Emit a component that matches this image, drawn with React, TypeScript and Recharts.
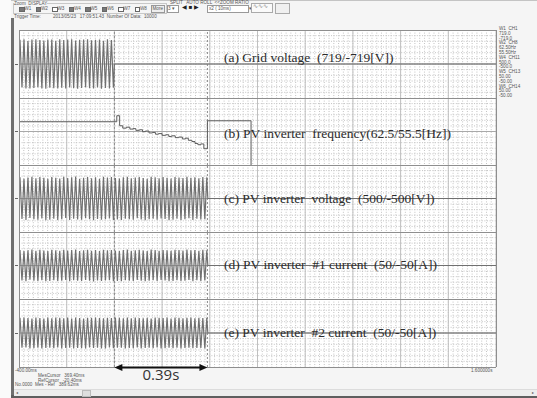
import { CartesianGrid, Line, LineChart, ReferenceLine, XAxis, YAxis } from "recharts";

// Time axis of the recorder screen, seconds
const T_MIN = -0.4;
const T_MAX = 1.6;
const HALF_CYCLE = 1 / 120; // 60 Hz
const REF_CURSOR = 0;
const MES_CURSOR = 0.39;
const MAJOR_TICKS = [-0.4, -0.2, 0, 0.2, 0.4, 0.6, 0.8, 1.0, 1.2, 1.4, 1.6];

// Half-cycle peaks of each waveform, left to right
const GRID_V = [
  512, -498, 521, -515, 488, -520, 517, -506, 524, -492, 509, -518, 496, -523, 515, -501,
  520, -511, 490, -517, 522, -503, 508, -519, 516, -495, 525, -510, 499, -521, 513, -507,
  519, -489, 524, -514, 502, -520, 511, -497, 518, -522, 493, -508, 521, -516, 505, -500,
];
const INV_V = [
  318, -305, 296, -321, 312, -290, 325, -309, 301, -318, 322, -297, 308, -324, 293, -315,
  320, -302, 311, -319, 298, -310, 324, -292, 306, -321, 315, -300, 327, -313, 295, -318,
  310, -296, 321, -311, 302, -325, 316, -304, 294, -317, 323, -308, 312, -299, 319, -322,
  305, -314, 297, -320, 318, -303, 326, -309, 300, -316, 313, -295, 321, -312, 307, -323,
  296, -310, 324, -301, 315, -318, 303, -297, 319, -306, 311, -324, 298, -315, 322, -300,
  313, -319, 304, -311, 326, -296, 309, -321, 317, -302, 300, -314, 320, -308, 316,
];
const INV1_I = [
  23.1, -22.4, 21.6, -23.5, 22.8, -21.2, 23.7, -22.6, 22.0, -23.2, 23.4, -21.8, 22.5, -23.6, 21.4, -22.9,
  23.3, -22.1, 22.7, -23.0, 21.9, -22.7, 23.6, -21.5, 22.3, -23.4, 23.0, -21.9, 23.8, -22.8, 21.6, -23.1,
  22.6, -21.7, 23.5, -22.7, 22.1, -23.7, 23.0, -22.2, 21.5, -23.1, 23.6, -22.5, 22.8, -21.8, 23.2, -23.5,
  22.2, -22.9, 21.7, -23.3, 23.1, -22.0, 23.8, -22.6, 21.9, -23.0, 22.8, -21.6, 23.4, -22.7, 22.4, -23.6,
  21.6, -22.6, 23.7, -21.9, 23.0, -23.1, 22.1, -21.7, 23.2, -22.3, 22.7, -23.6, 21.8, -23.0, 23.5, -21.9,
  22.9, -23.2, 22.2, -22.7, 23.8, -21.6, 22.6, -23.4, 23.1, -22.0, 21.9, -23.0, 23.3, -22.5, 22.7,
];
const INV2_I = [
  22.4, -21.8, 22.9, -21.1, 22.0, -22.7, 21.4, -22.3, 22.8, -21.5, 21.9, -22.9, 21.3, -22.1, 22.6, -21.7,
  21.6, -22.5, 22.9, -21.2, 22.3, -22.8, 21.5, -22.0, 22.7, -21.6, 21.2, -22.6, 22.9, -21.9, 22.1, -22.4,
  21.4, -22.8, 22.5, -21.3, 22.2, -22.0, 22.8, -21.5, 22.0, -22.6, 21.7, -22.9, 22.4, -21.4, 21.9, -22.3,
  22.9, -21.8, 22.3, -21.6, 21.5, -22.7, 22.6, -22.1, 21.8, -22.2, 22.7, -21.1, 22.1, -22.9, 21.6, -21.9,
  22.5, -21.7, 21.4, -22.5, 22.8, -21.3, 22.2, -22.6, 21.9, -22.4, 22.6, -21.8, 21.3, -22.2, 22.9, -21.6,
  22.3, -22.8, 21.8, -22.0, 22.4, -21.5, 22.7, -22.3, 21.6, -22.1, 22.5, -21.9, 22.0, -22.7, 22.2,
];

// Inverter frequency, held between samples
const FREQ_T = [
  -0.4, 0.01, 0.022, 0.035, 0.05, 0.065, 0.078, 0.09, 0.105, 0.118, 0.13, 0.145, 0.16, 0.172, 0.185,
  0.2, 0.215, 0.228, 0.24, 0.255, 0.27, 0.285, 0.298, 0.31, 0.325, 0.338, 0.35, 0.362, 0.375, 0.39,
  0.573, 1.6,
];
const FREQ_HZ = [
  60.02, 60.65, 59.6, 59.35, 59.45, 59.25, 59.3, 59.12, 59.18, 58.98, 59.05, 58.85, 58.9, 58.72, 58.78,
  58.6, 58.66, 58.48, 58.55, 58.36, 58.42, 58.22, 58.3, 58.08, 57.95, 57.75, 57.62, 57.7, 57.2, 60.12,
  50, 50,
];

const CHANNELS = [
  ["W1  CH1", "719.0", "-719.0"],
  ["W2  CH8", "62.50Hz", "55.50Hz"],
  ["W4  CH11", "500.0", "-500.0"],
  ["W5  CH13", "50.00", "-50.00"],
  ["W6  CH14", "50.00", "-50.00"],
];
const DISPLAY_BOXES = [
  ["W1", true], ["W2", true], ["W3", false], ["W4", true],
  ["W5", true], ["W6", true], ["W7", false], ["W8", false],
] as const;

function wave(peaks: number[]) {
  const pts = [{ t: T_MIN, v: 0 }];
  peaks.forEach((v, i) => pts.push({ t: T_MIN + (i + 0.5) * HALF_CYCLE, v }));
  pts.push({ t: T_MIN + peaks.length * HALF_CYCLE, v: 0 }, { t: T_MAX, v: 0 });
  return pts;
}

const FREQ = FREQ_T.map((t, i) => ({ t, v: FREQ_HZ[i] }));

const PLOT_L = 19;
const PLOT_W = 477;
const PANEL_TOPS = [30, 98, 165, 232, 299, 367];

const PANELS = [
  { id: "a", data: wave(GRID_V), domain: [-719, 719], step: false, dy: -6, label: "(a) Grid voltage  (719/-719[V])" },
  { id: "b", data: FREQ, domain: [55.5, 62.5], step: true, dy: 2, label: "(b) PV inverter  frequency(62.5/55.5[Hz])" },
  { id: "c", data: wave(INV_V), domain: [-500, 500], step: false, dy: 0, label: "(c) PV inverter  voltage  (500/-500[V])" },
  { id: "d", data: wave(INV1_I), domain: [-50, 50], step: false, dy: -1, label: "(d) PV inverter  #1 current  (50/-50[A])" },
  { id: "e", data: wave(INV2_I), domain: [-50, 50], step: false, dy: 0, label: "(e) PV inverter  #2 current  (50/-50[A])" },
];

const xs = (t: number) => PLOT_L + ((t - T_MIN) / (T_MAX - T_MIN)) * PLOT_W;

// dotted sub-grid: 10 columns per major division, 12 rows per panel
const MINOR_COLS: number[] = [];
for (let i = 1; i < 100; i++) MINOR_COLS.push((i * PLOT_W) / 100);

const tiny = { position: "absolute", fontSize: 4.6, lineHeight: "5px", color: "#555", whiteSpace: "pre" } as const;

function Panel({ p, top, height }: { p: (typeof PANELS)[number]; top: number; height: number }) {
  const [lo, hi] = p.domain;
  const rows: number[] = [];
  for (let i = 1; i < 12; i++) rows.push((i * height) / 12);
  return (
    <div style={{ position: "absolute", left: PLOT_L, top, width: PLOT_W, height }}>
      <LineChart width={PLOT_W} height={height} data={p.data} margin={{ top: 0, right: 0, bottom: 0, left: 0 }}>
        <XAxis type="number" dataKey="t" domain={[T_MIN, T_MAX]} allowDataOverflow hide />
        <YAxis type="number" domain={p.domain} allowDataOverflow hide />
        <CartesianGrid
          stroke="#c4c4c4"
          strokeDasharray="1 1.6"
          verticalPoints={MINOR_COLS}
          horizontalPoints={rows}
        />
        {MAJOR_TICKS.map((t) => (
          <ReferenceLine key={t} x={t} stroke="#c0c0c0" />
        ))}
        <ReferenceLine y={(lo + hi) / 2} stroke="#a9a9a9" />
        <ReferenceLine x={REF_CURSOR} stroke="#8a8a8a" strokeDasharray="2 2" />
        <ReferenceLine x={MES_CURSOR} stroke="#8a8a8a" strokeDasharray="2 2" />
        <Line
          dataKey="v"
          type={p.step ? "stepAfter" : "linear"}
          stroke={p.step ? "#5c5c5c" : "#707070"}
          strokeWidth={p.step ? 1 : 1.2}
          dot={false}
          isAnimationActive={false}
        />
      </LineChart>
    </div>
  );
}

export default function App() {
  const a0 = xs(REF_CURSOR);
  const a1 = xs(MES_CURSOR);
  return (
    <div
      style={{
        position: "fixed",
        left: 0,
        top: 0,
        width: 537,
        height: 398,
        overflow: "hidden",
        background: "#f5f5f5",
        fontFamily: "'Liberation Sans', Arial, sans-serif",
      }}
    >
      {/* window chrome */}
      <div style={{ position: "absolute", left: 0, top: 0, width: 537, height: 1, background: "#c4c4c4" }} />
      <div style={{ position: "absolute", left: 0, top: 0, width: 11, height: 398, background: "#fafafa" }} />
      <div style={{ position: "absolute", left: 11, top: 18, width: 3, height: 380, background: "#707070" }} />
      <div style={{ position: "absolute", left: 11, top: 395, width: 526, height: 3, background: "#5e5e5e" }} />

      {/* toolbar */}
      <div style={{ position: "absolute", left: 13, top: 3, width: 152, height: 9, border: "1px solid #c8c8c8" }} />
      <span style={{ ...tiny, left: 14, top: 1, background: "#f5f5f5" }}>Zoom  DISPLAY</span>
      {DISPLAY_BOXES.map(([name, on], i) => (
        <div key={name} style={{ position: "absolute", left: 19 + i * 16.5, top: 6 }}>
          <div
            style={{
              position: "absolute",
              left: 0,
              top: 0.5,
              width: 3.5,
              height: 3.5,
              border: "0.6px solid #666",
              background: on ? "#777" : "#fff",
            }}
          />
          <span style={{ ...tiny, left: 5.5, top: 0 }}>{name}</span>
        </div>
      ))}
      <div style={{ position: "absolute", left: 151, top: 5, width: 12, height: 6, border: "0.6px solid #999", background: "#eee" }} />
      <span style={{ ...tiny, left: 152.5, top: 5.5 }}>More</span>
      <span style={{ ...tiny, left: 170, top: 0 }}>SPLIT   AUTO ROLL  &lt;&lt;ZOOM RATIO</span>
      <div style={{ position: "absolute", left: 167, top: 5, width: 10, height: 6, border: "0.6px solid #999", background: "#fff" }} />
      <span style={{ ...tiny, left: 168, top: 5.5 }}>3 ▾</span>
      <span style={{ ...tiny, left: 182, top: 5, fontSize: 6, color: "#222" }}>◀ ■ ▶</span>
      <div style={{ position: "absolute", left: 207, top: 5, width: 40, height: 6, border: "0.6px solid #999", background: "#fff" }} />
      <span style={{ ...tiny, left: 209, top: 5.5 }}>x2 ( 10ms)              ▾</span>
      <div style={{ position: "absolute", left: 251, top: 3, width: 20, height: 8, border: "0.6px solid #aaa", background: "#fafafa" }} />
      <span style={{ ...tiny, left: 253, top: 4, fontSize: 6, color: "#888" }}>∿∿∿</span>
      <div style={{ position: "absolute", left: 275, top: 3, width: 13, height: 9, border: "0.6px solid #aaa", background: "#f0f0f0" }} />
      <span style={{ ...tiny, left: 14, top: 14 }}>Trigger Time:</span>
      <span style={{ ...tiny, left: 53, top: 14 }}>2013/05/23   17:09:51.43  Number Of Data:  10000</span>

      {/* plot area */}
      <div
        style={{
          position: "absolute",
          left: PLOT_L,
          top: PANEL_TOPS[0],
          width: PLOT_W,
          height: PANEL_TOPS[5] - PANEL_TOPS[0],
          background: "#fff",
        }}
      />
      {PANELS.map((p, i) => (
        <Panel key={p.id} p={p} top={PANEL_TOPS[i]} height={PANEL_TOPS[i + 1] - PANEL_TOPS[i]} />
      ))}
      {PANEL_TOPS.map((y) => (
        <div key={y} style={{ position: "absolute", left: PLOT_L, top: y - 0.5, width: PLOT_W, height: 1.2, background: "#8e8e8e" }} />
      ))}
      <div style={{ position: "absolute", left: PLOT_L - 0.5, top: PANEL_TOPS[0], width: 1.2, height: 337, background: "#8e8e8e" }} />
      <div style={{ position: "absolute", left: PLOT_L + PLOT_W - 0.5, top: PANEL_TOPS[0], width: 1.2, height: 337, background: "#8e8e8e" }} />
      {PANELS.map((p, i) => {
        const mid = (PANEL_TOPS[i] + PANEL_TOPS[i + 1]) / 2;
        return (
          <div key={p.id}>
            <div style={{ position: "absolute", left: 15, top: mid - 0.5, width: 3, height: 1, background: "#666" }} />
            <div
              style={{
                position: "absolute",
                left: 224,
                top: mid + p.dy - 9,
                height: 18,
                lineHeight: "18px",
                fontFamily: "'Liberation Serif', 'Times New Roman', serif",
                fontSize: 13.5,
                color: "#2b2b2b",
                whiteSpace: "pre",
              }}
            >
              {p.label}
            </div>
          </div>
        );
      })}

      {/* channel list */}
      {CHANNELS.flat().map((s, i) => (
        <span key={i} style={{ ...tiny, left: 499, top: 26 + i * 4.8 }}>
          {s}
        </span>
      ))}

      {/* time range and cursor readout */}
      <span style={{ ...tiny, left: 15, top: 368 }}>-400.00ms</span>
      <span style={{ ...tiny, left: 471, top: 368 }}>1.600000s</span>
      <span style={{ ...tiny, left: 38, top: 373 }}>MesCursor   369.40ms</span>
      <span style={{ ...tiny, left: 38, top: 377.5 }}>RefCursor   -20.40ms</span>
      <span style={{ ...tiny, left: 15, top: 382 }}>No.0000  Mes - Ref   389.62ms</span>

      {/* scrollbar */}
      <div style={{ position: "absolute", left: 14, top: 389, width: 523, height: 6, background: "#ededed", borderTop: "1px solid #dcdcdc" }} />
      <div style={{ position: "absolute", left: 82, top: 389.5, width: 7, height: 5, background: "#dedede", border: "0.6px solid #bbb" }} />
      <span style={{ ...tiny, left: 16, top: 389.5, fontSize: 4 }}>◂</span>
      <span style={{ ...tiny, left: 532, top: 389.5, fontSize: 4 }}>▸</span>

      {/* interval between the two cursors */}
      <svg width={537} height={398} style={{ position: "absolute", left: 0, top: 0, pointerEvents: "none" }}>
        <line x1={a0 + 6} y1={367.5} x2={a1 - 6} y2={367.5} stroke="#111" strokeWidth={2} />
        <polygon points={`${a0},367.5 ${a0 + 8},364 ${a0 + 8},371`} fill="#111" />
        <polygon points={`${a1},367.5 ${a1 - 8},364 ${a1 - 8},371`} fill="#111" />
      </svg>
      <div
        style={{
          position: "absolute",
          left: (a0 + a1) / 2 - 30,
          width: 60,
          top: 366,
          textAlign: "center",
          fontSize: 15,
          lineHeight: "16px",
          color: "#333",
          fontFamily: "'Open Sans', 'Liberation Sans', sans-serif",
        }}
      >
        0.39s
      </div>
    </div>
  );
}
